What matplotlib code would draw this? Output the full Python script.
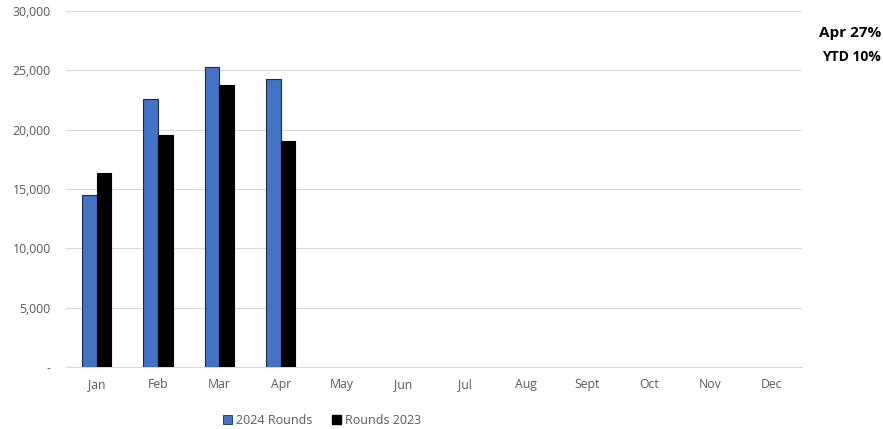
import matplotlib.pyplot as plt
import numpy as np
from matplotlib.patches import Patch

plt.rcParams['font.family'] = ['Open Sans', 'DejaVu Sans']

months = ['Jan', 'Feb', 'Mar', 'Apr', 'May', 'Jun', 'Jul', 'Aug', 'Sept', 'Oct', 'Nov', 'Dec']
rounds_2024 = [14500, 22600, 25300, 24300]
rounds_2023 = [16350, 19550, 23750, 19050]

fig = plt.figure(figsize=(8.83, 4.29), dpi=100)
ax = fig.add_axes([66 / 883, 62 / 429, 736 / 883, 356 / 429])

x = np.arange(len(months))
w = 0.24
ax.bar(x[:len(rounds_2024)] - w / 2, rounds_2024, w, color='#4472C4',
       edgecolor='#1f2a44', linewidth=0.8, zorder=3)
ax.bar(x[:len(rounds_2023)] + w / 2, rounds_2023, w, color='black',
       edgecolor='black', linewidth=0.8, zorder=3)

ax.set_xlim(-0.5, len(months) - 0.5)
ax.set_ylim(0, 30000)
ax.set_yticks(range(0, 30001, 5000))
ax.set_yticklabels(['-'] + [f'{v:,}' for v in range(5000, 30001, 5000)])
ax.set_xticks(x)
ax.set_xticklabels(months)
ax.tick_params(length=0, colors='#595959', labelsize=8.8)
ax.tick_params(axis='y', pad=11)
ax.tick_params(axis='x', pad=8)
ax.grid(axis='y', color='#d9d9d9', linewidth=0.8, zorder=0)
for s in ['top', 'right', 'left']:
    ax.spines[s].set_visible(False)
ax.spines['bottom'].set_color('#d9d9d9')

handles = [Patch(facecolor='#4472C4', edgecolor='#1f2a44', linewidth=0.6),
           Patch(facecolor='black', edgecolor='black')]
fig.legend(handles, ['2024 Rounds', 'Rounds 2023'], loc='center',
           bbox_to_anchor=(322 / 883, 1 - 420 / 429), ncol=2, frameon=False,
           fontsize=9, labelcolor='#595959', handlelength=0.7, handleheight=0.7,
           handletextpad=0.3, columnspacing=1.6)

fig.text(881 / 883, 1 - 33 / 429, 'Apr 27%', ha='right', va='center',
         fontsize=11, fontweight='bold')
fig.text(881 / 883, 1 - 57 / 429, 'YTD 10%', ha='right', va='center',
         fontsize=10, fontweight='bold')

fig.savefig('out.png', dpi=100)
